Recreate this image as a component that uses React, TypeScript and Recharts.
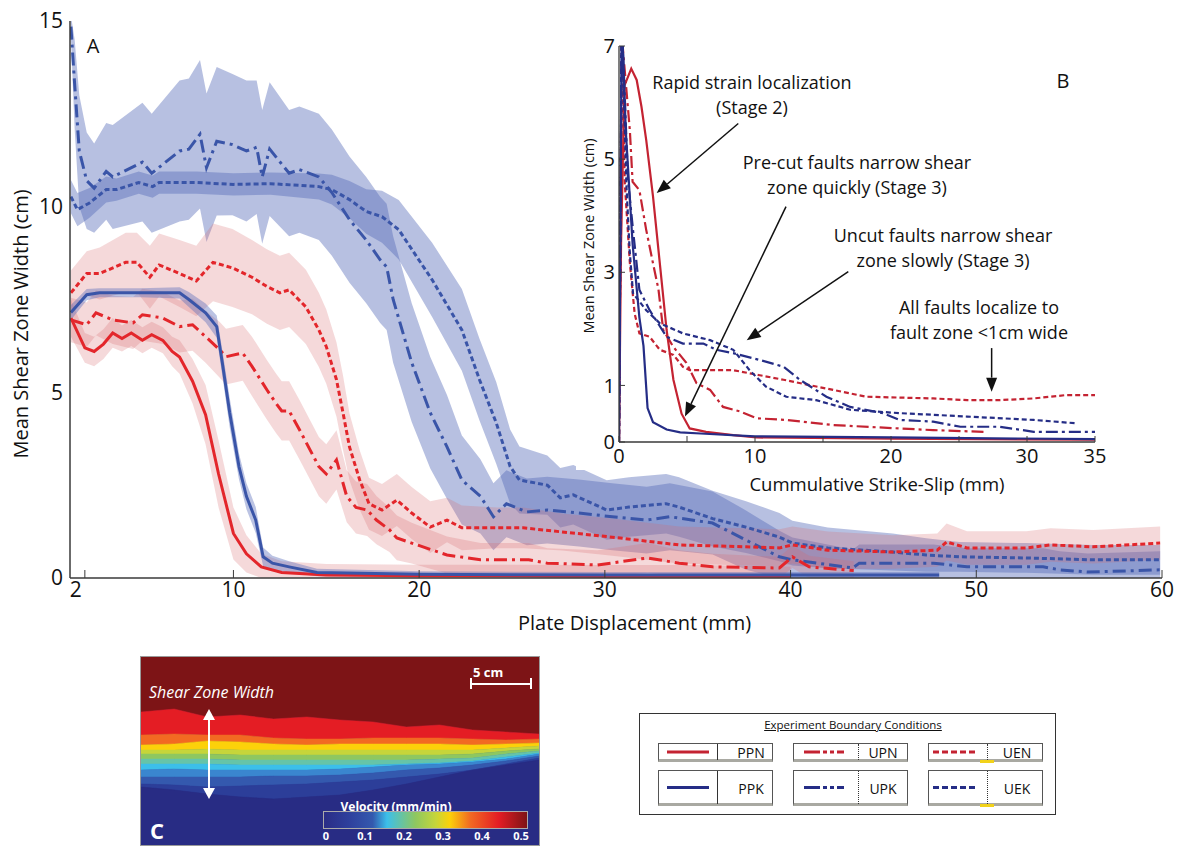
import React from "react";
import { ComposedChart, AreaChart, Area, Line, XAxis, YAxis, ReferenceLine } from "recharts";

const FONT = "'Open Sans', sans-serif";
const AX = "#3a3a3a";
const RED = "#e3262b";
const BLUE = "#3a55a8";
const RED_BAND = "#d9676a";
const BLUE_BAND = "#5468b8";
const RED_D = "#c42332";
const NAVY = "#252d86";

// Panel A: [plate displacement (mm), mean width (cm), band half-width]
const ppnMain = [[1.25,7.0,0.5],[2.0,6.2,0.4],[2.5,6.1,0.4],[3.0,6.3,0.4],[3.5,6.6,0.4],[4.0,6.45,0.35],[4.5,6.6,0.35],[5.1,6.4,0.35],[5.6,6.55,0.35],[6.2,6.4,0.35],[6.7,6.1,0.4],[7.1,5.95,0.45],[7.8,5.3,0.6],[8.5,4.4,0.8],[9.2,2.8,0.9],[10.0,1.2,0.7],[10.7,0.65,0.5],[11.5,0.3,0.35],[12.6,0.15,0.3],[15,0.08,0.3],[20,0.06,0.3],[25,0.06,0.3],[30,0.05,0.3],[35,0.05,0.3],[40,0.05,0.25]];
const ppkMain = [[1.25,7.15,0.2],[2.1,7.63,0.15],[2.8,7.68,0.12],[5,7.68,0.12],[7.1,7.68,0.15],[7.6,7.5,0.2],[8.5,7.14,0.25],[9.1,6.77,0.3],[9.4,5.8,0.35],[9.8,4.45,0.4],[10.3,3.0,0.35],[10.7,2.2,0.35],[11.2,1.56,0.35],[11.6,0.57,0.25],[12.1,0.4,0.2],[13.0,0.3,0.15],[14.5,0.15,0.1],[20,0.1,0.08],[30,0.08,0.08],[40,0.08,0.08],[48,0.08,0.08]];
const upnMain = [[1.25,6.95,0.6],[2.1,6.82,0.6],[2.6,7.14,0.6],[3.5,6.95,0.65],[4.6,6.87,0.7],[5.1,7.09,0.7],[6.2,7.0,0.7],[7.1,6.77,0.7],[7.8,6.82,0.7],[8.5,6.5,0.7],[9.25,6.15,0.75],[9.6,5.96,0.75],[10.5,6.06,0.75],[11.0,5.7,0.8],[11.8,5.07,0.8],[12.3,4.7,0.8],[12.6,4.5,0.8],[13.0,4.5,0.8],[13.55,4.0,0.8],[14.6,3.0,0.8],[15.0,2.8,0.8],[15.55,3.18,0.8],[16.1,2.2,0.7],[16.6,1.9,0.7],[17.2,1.83,0.7],[17.7,1.56,0.65],[18.4,1.3,0.6],[18.8,1.08,0.6],[19.6,0.94,0.55],[21.5,0.62,0.5],[23.3,0.49,0.45],[25.9,0.49,0.45],[26.9,0.4,0.4],[29.6,0.35,0.4],[32.3,0.54,0.4],[34.0,0.4,0.35],[35.8,0.3,0.35],[39.4,0.27,0.3],[40.1,0.57,0.3],[41,0.3,0.3],[43.4,0.2,0.25]];
const uenMain = [[1.25,7.68,0.6],[2.1,8.2,0.6],[2.8,8.2,0.7],[4.2,8.5,0.8],[4.8,8.5,0.8],[5.5,8.1,0.85],[6.0,8.43,0.85],[7.1,8.2,0.9],[8.0,8.0,0.95],[8.9,8.5,1.05],[9.95,8.35,1.05],[11.0,8.1,1.0],[11.8,7.85,1.0],[12.5,7.68,1.0],[13.0,7.76,1.0],[13.9,7.3,1.0],[14.6,6.68,1.0],[15.0,6.23,1.0],[15.55,5.34,1.0],[15.9,4.45,1.0],[16.25,3.53,0.9],[16.8,2.64,0.8],[17.3,2.0,0.7],[18.0,1.83,0.7],[18.8,2.1,0.7],[19.6,1.75,0.7],[20.6,1.37,0.7],[21.5,1.56,0.6],[22.3,1.35,0.6],[24.2,1.35,0.55],[25.6,1.35,0.55],[27.7,1.24,0.5],[30.4,1.1,0.5],[34.0,0.89,0.5],[37.6,0.84,0.5],[39.4,0.81,0.5],[40.1,0.89,0.5],[42.0,0.75,0.5],[45.5,0.7,0.45],[47.9,0.75,0.45],[48.4,0.97,0.5],[49.5,0.81,0.45],[52.7,0.81,0.45],[54.0,0.89,0.45],[56.3,0.84,0.45],[59.9,0.94,0.45]];
const upkMain = [[1.25,14.85,0.3],[1.45,13.3,1.2],[1.7,11.5,1.5],[2.1,10.7,1.3],[2.5,10.5,1.2],[3.15,10.95,1.3],[3.5,10.8,1.4],[5.1,11.2,1.6],[5.6,10.9,1.6],[7.1,11.5,1.9],[7.6,11.55,1.9],[8.2,11.95,2.0],[8.55,11.05,2.0],[9.1,11.76,2.0],[9.95,11.67,1.9],[10.7,11.5,1.9],[11.25,11.6,1.8],[11.55,10.8,1.8],[11.95,11.55,1.8],[13.0,10.9,1.7],[13.55,11.0,1.7],[14.6,10.8,1.7],[15.3,10.38,1.7],[16.25,9.65,1.7],[17.15,9.1,1.7],[17.9,8.57,1.7],[18.25,8.38,1.7],[18.6,7.5,1.7],[19.6,5.8,1.6],[20.6,4.45,1.5],[21.5,3.53,1.4],[22.3,2.64,1.2],[23.3,2.2,1.0],[24.0,1.65,0.9],[24.7,2.0,0.9],[25.8,1.78,0.9],[26.9,1.83,0.9],[28.6,1.75,0.9],[30.4,1.65,0.9],[32.25,1.56,0.9],[33.5,1.65,0.9],[35.8,1.48,0.85],[37.6,1.02,0.8],[39.4,0.57,0.7],[40.1,0.49,0.6],[43.35,0.27,0.5],[43.7,0.4,0.5],[47.7,0.4,0.5],[49.5,0.3,0.5],[53.6,0.3,0.5],[54.5,0.22,0.5],[56,0.16,0.5],[59.9,0.22,0.5]];
const uekMain = [[1.25,10.27,0.45],[1.6,9.92,0.45],[2.25,10.1,0.4],[3.15,10.46,0.35],[3.7,10.46,0.3],[4.9,10.65,0.3],[5.65,10.54,0.3],[6.0,10.65,0.3],[8,10.65,0.3],[10,10.6,0.3],[12,10.62,0.3],[14.6,10.54,0.35],[15.3,10.46,0.4],[16.25,10.19,0.5],[17.15,9.87,0.6],[18.0,9.73,0.7],[18.9,9.38,0.8],[20.7,8.03,1.0],[22.3,6.68,1.1],[23.25,5.34,1.1],[24.15,4.18,1.1],[24.9,3.0,1.0],[25.4,2.64,0.9],[26.9,2.5,0.8],[27.6,2.16,0.8],[28.3,2.24,0.8],[30.1,1.83,0.8],[31.3,1.91,0.8],[33.3,2.0,0.8],[34.0,1.91,0.8],[35.8,1.6,0.75],[37.6,1.37,0.7],[39.4,1.1,0.65],[40.1,0.94,0.6],[42.0,0.81,0.55],[45.5,0.7,0.5],[47.3,0.62,0.45],[49.1,0.57,0.4],[52.7,0.54,0.4],[56.3,0.49,0.4],[59.9,0.49,0.4]];

// Panel B: [cumulative strike-slip (mm), mean width (cm)]
const ppnInset = [[0,0],[0.15,3.5],[0.4,6.3],[0.9,6.6],[1.3,6.4],[1.65,5.93],[2.0,5.34],[2.5,4.34],[3.0,3.16],[3.5,1.98],[4.0,1.1],[4.6,0.5],[5.2,0.24],[6.4,0.18],[8.4,0.12],[10.1,0.08],[20,0.06],[35,0.04]];
const ppkInset = [[0,0],[0.2,7.5],[0.5,5.5],[1.0,3.5],[1.5,2.2],[1.8,1.7],[2.1,0.6],[2.5,0.35],[3.5,0.22],[4.5,0.17],[6,0.15],[10,0.1],[20,0.08],[35,0.05]];
const upnInset = [[0,0],[0.2,7.2],[0.8,5.5],[1.0,4.6],[1.5,4.45],[2.0,3.75],[2.5,3.16],[2.9,2.7],[3.25,1.98],[4.0,1.68],[4.95,1.4],[5.7,1.04],[6.7,0.92],[7.65,0.62],[8.9,0.54],[10.1,0.42],[12.3,0.39],[15.7,0.3],[20.6,0.24],[23.1,0.21],[26.8,0.18]];
const uenInset = [[0,0],[0.2,7.2],[0.42,4.6],[0.8,3.16],[1.15,2.27],[1.5,1.92],[2.25,1.86],[3.0,1.63],[4.0,1.54],[4.7,1.33],[5.2,1.27],[8.4,1.27],[10.35,1.18],[12.1,1.1],[15.75,0.92],[18.2,0.8],[23.1,0.77],[25.6,0.74],[28,0.74],[30.5,0.77],[32.9,0.83],[35,0.83]];
const upkInset = [[0,0],[0.2,7.5],[0.66,4.63],[1.03,3.75],[1.5,2.69],[2.25,2.33],[3.5,1.86],[4.7,1.74],[6.2,1.74],[7.15,1.63],[8.4,1.57],[10.35,1.45],[12.1,1.33],[13.3,1.1],[15.25,0.8],[17.0,0.62],[19.4,0.51],[20.65,0.39],[23.1,0.36],[25.1,0.27],[28.0,0.27],[30.5,0.18],[35,0.18]];
const uekInset = [[0,0],[0.2,7.5],[0.54,4.57],[0.78,3.4],[1.03,2.63],[2.0,2.33],[3.0,2.1],[4.7,1.92],[6.7,1.8],[8.4,1.63],[9.6,1.27],[10.8,0.98],[12.3,0.8],[14.5,0.74],[17.0,0.57],[20.65,0.51],[25.6,0.45],[30.5,0.39],[33.65,0.33]];

const mainXTicks = [2, 10, 20, 30, 40, 50, 60];
const mainYTicks = [0, 5, 10, 15];
const insetXTicks = [0, 5, 10, 15, 20, 25, 30, 35];
const insetYTicks = [0, 1, 3, 5, 7];
const insetRightTicks = [0, 1, 2, 3, 4, 5, 6, 7];

// annotation arrows in panel B, data coords [x1, y1, x2, y2]
const arrows = [[8.77,5.63,2.77,4.4],[12.28,4.16,4.85,0.45],[16.86,3.01,9.39,1.8],[27.4,1.66,27.4,0.89]];

// Panel C: velocity band boundaries (px from image top, 13 columns)
const heatBounds = [
  [55,52,60,58,62,60,63,65,70,68,73,75,77],
  [78,77,78,78,81,82,82,81,81,81,82,83,82],
  [88,87,84,85,87,88,87,87,87,87,88,87,86],
  [93,93,92,93,93,93,93,93,93,93,93,91,89],
  [97,97,97,98,98,98,98,98,98,98,97,94,92],
  [102,102,102,103,103,103,103,103,103,102,101,97,94],
  [107,107,107,108,108,108,108,108,107,106,104,100,96],
  [113,112,113,113,113,113,112,110,108,107,105,102,97],
  [120,120,120,120,119,119,118,116,113,111,108,104,99],
  [127,128,130,129,128,127,125,123,120,117,113,107,101],
  [130,133,137,140,142,140,138,133,127,120,113,108,103],
];
const heatColors = ["#7d1416","#e41d24","#f26a22","#fcd10a","#c6d53a","#8ec760","#66c4a8","#3cbfea","#3a86cf","#3459ae","#2c3e99","#282c84"];
const colorbarTicks = ["0","0.1","0.2","0.3","0.4","0.5"];

const legendLabels = [["PPN","UPN","UEN"],["PPK","UPK","UEK"]];

const toRows = (pts: number[][]) => pts.map(([x, y, s]) => ({ x, y, band: [Math.max(0, y - s), y + s] }));
const toLine = (pts: number[][]) => pts.map(([x, y]) => ({ x, y }));

const heatRows = heatBounds[0].map((_, i) => {
  const r: any = { x: i };
  const edges = [0, ...heatBounds.map((b) => b[i]), 188];
  heatColors.forEach((_, k) => { r["b" + k] = [edges[k], edges[k + 1]]; });
  return r;
});

const mainSeries = [
  { key: "upk", pts: upkMain, color: BLUE, band: BLUE_BAND, op: 0.42, dash: "13 5 3 5" },
  { key: "uek", pts: uekMain, color: BLUE, band: BLUE_BAND, op: 0.42, dash: "5 3" },
  { key: "uen", pts: uenMain, color: RED, band: RED_BAND, op: 0.25, dash: "5 3" },
  { key: "upn", pts: upnMain, color: RED, band: RED_BAND, op: 0.25, dash: "13 5 3 5" },
  { key: "ppn", pts: ppnMain, color: RED, band: RED_BAND, op: 0.25, dash: undefined },
  { key: "ppk", pts: ppkMain, color: BLUE, band: BLUE_BAND, op: 0.4, dash: undefined },
];

const insetSeries = [
  { key: "upn", pts: upnInset, color: RED_D, dash: "12 4 3 4" },
  { key: "uen", pts: uenInset, color: RED_D, dash: "5 3" },
  { key: "ppn", pts: ppnInset, color: RED_D, dash: undefined },
  { key: "upk", pts: upkInset, color: NAVY, dash: "12 4 3 4" },
  { key: "uek", pts: uekInset, color: NAVY, dash: "5 3" },
  { key: "ppk", pts: ppkInset, color: NAVY, dash: undefined },
];

const Arrow = (p: any) => {
  const { x1, y1, x2, y2 } = p;
  if (x1 == null) return <g />;
  const a = Math.atan2(y2 - y1, x2 - x1);
  const L = 14, W = 5.5;
  const bx = x2 - L * Math.cos(a), by = y2 - L * Math.sin(a);
  const pts = `${x2},${y2} ${bx + W * Math.sin(a)},${by - W * Math.cos(a)} ${bx - W * Math.sin(a)},${by + W * Math.cos(a)}`;
  return (
    <g>
      <line x1={x1} y1={y1} x2={bx} y2={by} stroke="#111" strokeWidth={1.5} />
      <polygon points={pts} fill="#111" />
    </g>
  );
};

// "2" label sits a little left of its tick in the original
const MainXTick = (p: any) => (
  <text x={p.x - (p.payload.value === 2 ? 9 : 0)} y={p.y} dy={15} textAnchor="middle" fontSize={21} fill="#111" fontFamily={FONT}>
    {p.payload.value}
  </text>
);

const abs = (left: number, top: number, extra: any = {}): React.CSSProperties => ({
  position: "absolute", left, top, fontFamily: FONT, whiteSpace: "nowrap", ...extra,
});

function MainChart() {
  return (
    <ComposedChart width={1183} height={640} margin={{ top: 21, right: 21, bottom: 0, left: 0 }}>
      <XAxis xAxisId="b" dataKey="x" type="number" domain={[1.2, 60]} ticks={mainXTicks} allowDataOverflow
        height={62} tickSize={-8} tickMargin={12} axisLine={{ stroke: AX, strokeWidth: 1.5 }} tickLine={{ stroke: AX }}
        tick={MainXTick} />
      <XAxis xAxisId="t" orientation="top" dataKey="x" type="number" domain={[1.2, 60]} allowDataOverflow
        height={0} tick={false} tickLine={false} axisLine={{ stroke: AX, strokeWidth: 1.5 }} />
      <YAxis yAxisId="l" type="number" domain={[0, 15]} ticks={mainYTicks} allowDataOverflow width={70}
        tickSize={0} tickMargin={7} tickLine={false} axisLine={{ stroke: AX, strokeWidth: 1.5 }}
        tick={{ fontSize: 21, fill: "#111", fontFamily: FONT }} />
      <YAxis yAxisId="r" orientation="right" type="number" domain={[0, 15]} width={0} tick={false} tickLine={false}
        axisLine={{ stroke: AX, strokeWidth: 1.5 }} />
      {mainSeries.map((s) => (
        <Area key={"a" + s.key} xAxisId="b" yAxisId="l" data={toRows(s.pts)} dataKey="band" type="linear"
          stroke="none" fill={s.band} fillOpacity={s.op} isAnimationActive={false} />
      ))}
      {mainSeries.map((s) => (
        <Line key={"l" + s.key} xAxisId="b" yAxisId="l" data={toRows(s.pts)} dataKey="y" type="linear"
          stroke={s.color} strokeWidth={3} strokeDasharray={s.dash} dot={false} activeDot={false}
          isAnimationActive={false} />
      ))}
    </ComposedChart>
  );
}

function InsetChart() {
  return (
    <>
      <div style={abs(576, 30, { width: 539, height: 440, background: "#fff" })} />
      <div style={abs(575, 30, { width: 540, height: 468 })}>
        <ComposedChart width={540} height={468} margin={{ top: 16, right: 20, bottom: 0, left: 0 }}>
          <XAxis xAxisId="b" dataKey="x" type="number" domain={[0, 35]} ticks={insetXTicks} allowDataOverflow
            height={56} tickSize={-6} tickMargin={13} axisLine={{ stroke: AX, strokeWidth: 1.3 }} tickLine={{ stroke: AX }}
            tickFormatter={(v: number) => (v === 5 || v === 15 || v === 25 ? "" : String(v))}
            tick={{ fontSize: 20, fill: "#111", fontFamily: FONT }} />
          <XAxis xAxisId="t" orientation="top" dataKey="x" type="number" domain={[0, 35]} ticks={insetXTicks}
            height={0} tickSize={-6} tickFormatter={() => ""} axisLine={{ stroke: AX, strokeWidth: 1.3 }} tickLine={{ stroke: AX }} />
          <YAxis yAxisId="l" type="number" domain={[0, 7]} ticks={insetYTicks} allowDataOverflow width={44}
            tickSize={-6} tickMargin={10} axisLine={{ stroke: AX, strokeWidth: 1.3 }} tickLine={{ stroke: AX }}
            tick={{ fontSize: 20, fill: "#111", fontFamily: FONT }} />
          <YAxis yAxisId="r" orientation="right" type="number" domain={[0, 7]} ticks={insetRightTicks} width={0}
            tickSize={-6} tickFormatter={() => ""} axisLine={{ stroke: AX, strokeWidth: 1.3 }} tickLine={{ stroke: AX }} />
          {insetSeries.map((s) => (
            <Line key={s.key} xAxisId="b" yAxisId="l" data={toLine(s.pts)} dataKey="y" type="linear"
              stroke={s.color} strokeWidth={2.2} strokeDasharray={s.dash} dot={false} activeDot={false}
              isAnimationActive={false} />
          ))}
          {arrows.map((a, i) => (
            <ReferenceLine key={i} xAxisId="b" yAxisId="l" segment={[{ x: a[0], y: a[1] }, { x: a[2], y: a[3] }]}
              shape={Arrow} ifOverflow="visible" />
          ))}
        </ComposedChart>
      </div>
    </>
  );
}

function HeatPanel() {
  return (
    <div style={abs(140, 656, { width: 398, height: 188, border: "1px solid #9a9a9a", background: "#282c84", overflow: "hidden" })}>
      <AreaChart width={398} height={188} data={heatRows} margin={{ top: 0, right: 0, bottom: 0, left: 0 }}>
        <XAxis dataKey="x" type="number" domain={[0, 12]} hide />
        <YAxis type="number" domain={[0, 188]} reversed hide />
        {heatColors.map((c, k) => (
          <Area key={k} dataKey={"b" + k} type="linear" stroke={c} strokeWidth={0.5} fill={c} fillOpacity={1}
            isAnimationActive={false} />
        ))}
      </AreaChart>
      <div style={abs(8, 24, { color: "#fff", fontStyle: "italic", fontSize: 16 })}>Shear Zone Width</div>
      <div style={abs(332, 6, { color: "#fff", fontWeight: 700, fontSize: 13 })}>5 cm</div>
      <div style={abs(330, 26, { width: 60, height: 0, borderTop: "2px solid #fff" })} />
      <div style={abs(329, 21, { width: 0, height: 11, borderLeft: "2px solid #fff" })} />
      <div style={abs(389, 21, { width: 0, height: 11, borderLeft: "2px solid #fff" })} />
      <svg style={abs(60, 52)} width={16} height={90}>
        <line x1={8} y1={8} x2={8} y2={82} stroke="#fff" strokeWidth={2} />
        <polygon points="8,0 2,11 14,11" fill="#fff" />
        <polygon points="8,90 2,79 14,79" fill="#fff" />
      </svg>
      <div style={abs(9, 158, { color: "#fff", fontWeight: 700, fontSize: 22 })}>C</div>
      <div style={abs(255, 141, { color: "#fff", fontWeight: 700, fontSize: 12, transform: "translateX(-50%)" })}>Velocity (mm/min)</div>
      <div style={abs(182, 154, {
        width: 203, height: 16, border: "1px solid #aaa",
        background: "linear-gradient(to right, #2a2d86 0%, #2e3f9c 12%, #3459ae 24%, #3cbfea 31%, #8ec760 45%, #c6d53a 55%, #fcd10a 62%, #f26a22 72%, #e41d24 86%, #7d1416 100%)",
      })} />
      {colorbarTicks.map((t, i) => (
        <div key={t} style={abs(185 + i * 39, 171, { color: "#fff", fontWeight: 700, fontSize: 11, transform: "translateX(-50%)" })}>{t}</div>
      ))}
    </div>
  );
}

function LegendBox() {
  const cols = [658, 793, 928];
  const divX = [58, 64, 58];
  const sample = [[8, 50], [10, 50], [4, 46]];
  const labX = [92, 89, 88];
  const rowTop = [743, 770];
  const rowH = [19, 36];
  const dashes = [undefined, "16 3 4 3 4 3", "6 3"];
  const colors = [RED_D, NAVY];
  return (
    <div>
      <div style={abs(639, 713, { width: 415, height: 100, border: "1.5px solid #333" })} />
      <div style={abs(853, 717, { fontSize: 11.5, textDecoration: "underline", transform: "translateX(-50%)", color: "#111" })}>
        Experiment Boundary Conditions
      </div>
      {legendLabels.map((row, r) =>
        row.map((lab, c) => (
          <div key={lab} style={abs(cols[c], rowTop[r], {
            width: 115, height: rowH[r], borderTop: "1px solid #555", borderLeft: "1px solid #555",
            borderRight: "1px solid #555", borderBottom: "3px solid #a9a9a2", boxSizing: "border-box",
          })}>
            <div style={abs(divX[c], 0, { height: rowH[r] - 3, borderLeft: c === 0 ? "1px solid #333" : "1px dotted #333" })} />
            {c === 2 && <div style={abs(divX[c] - 7, rowH[r] - 3, { width: 14, height: 3, background: "#f2d21a" })} />}
            <svg style={abs(0, 0)} width={60} height={rowH[r] - 3}>
              <line x1={sample[c][0]} x2={sample[c][1]} y1={(rowH[r] - 3) / 2} y2={(rowH[r] - 3) / 2}
                stroke={colors[r]} strokeWidth={3} strokeDasharray={dashes[c]} />
            </svg>
            <div style={abs(labX[c], (rowH[r] - 3) / 2, { fontSize: 14, transform: "translate(-50%,-50%)", color: "#111" })}>{lab}</div>
          </div>
        ))
      )}
    </div>
  );
}

export default function App() {
  return (
    <div style={{ position: "absolute", left: 0, top: 0, width: 1183, height: 855, background: "#fff", fontFamily: FONT }}>
      <MainChart />
      <div style={abs(20, 324, { fontSize: 20, transform: "translate(-50%,-50%) rotate(-90deg)", color: "#111" })}>
        Mean Shear Zone Width (cm)
      </div>
      <div style={abs(518, 622, { fontSize: 20, transform: "translateY(-50%)", color: "#111" })}>Plate Displacement (mm)</div>
      <div style={abs(93, 45, { fontSize: 20, transform: "translate(-50%,-50%)", color: "#111" })}>A</div>
      <InsetChart />
      <div style={abs(588, 236, { fontSize: 14.5, transform: "translate(-50%,-50%) rotate(-90deg)", color: "#111" })}>
        Mean Shear Zone Width (cm)
      </div>
      <div style={abs(877, 483, { fontSize: 18.5, transform: "translate(-50%,-50%)", color: "#111" })}>Cummulative Strike-Slip (mm)</div>
      <div style={abs(1063, 80, { fontSize: 20, transform: "translate(-50%,-50%)", color: "#111" })}>B</div>
      {[
        ["Rapid strain localization", "(Stage 2)", 752, 94.5],
        ["Pre-cut faults narrow shear", "zone quickly (Stage 3)", 857, 174.5],
        ["Uncut faults narrow shear", "zone slowly (Stage 3)", 943, 247.5],
        ["All faults localize to", "fault zone <1cm wide", 979, 319.5],
      ].map(([l1, l2, x, y]) => (
        <div key={l1 as string} style={abs(x as number, y as number, {
          fontSize: 18, lineHeight: "25px", textAlign: "center", transform: "translate(-50%,-50%)", color: "#111",
        })}>
          {l1}<br />{l2}
        </div>
      ))}
      <HeatPanel />
      <LegendBox />
    </div>
  );
}
